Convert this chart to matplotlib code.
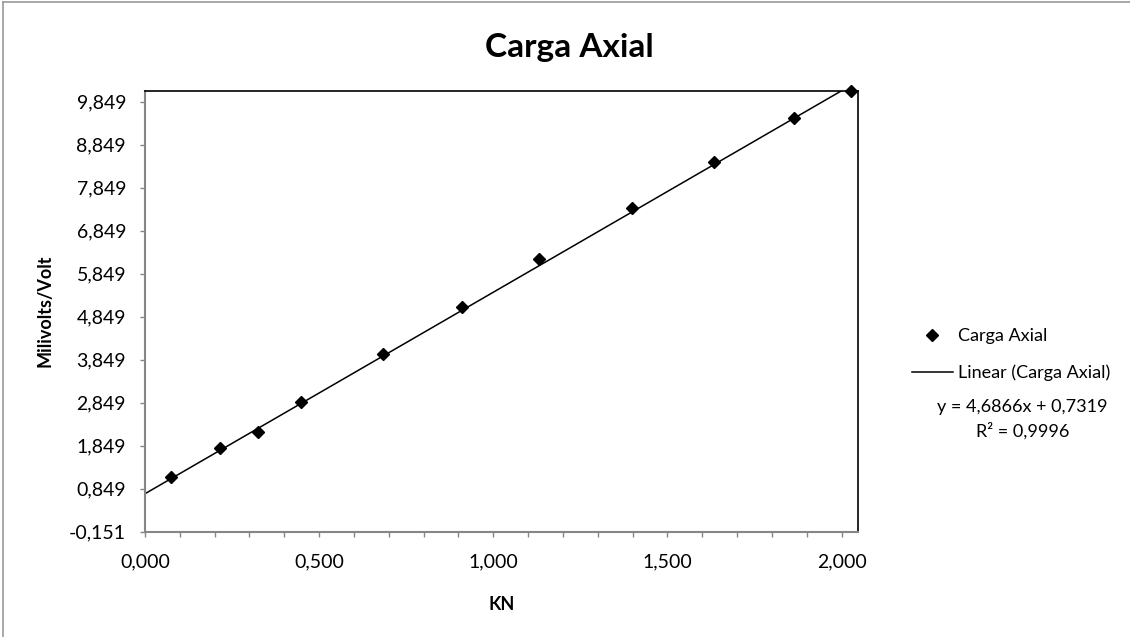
import numpy as np
import matplotlib
matplotlib.use("Agg")
import matplotlib.pyplot as plt
from matplotlib.lines import Line2D
from matplotlib.ticker import FixedLocator, MultipleLocator, FuncFormatter

plt.rcParams["font.family"] = ["Lato", "DejaVu Sans"]

# values
kn = [0.075, 0.215, 0.325, 0.448, 0.682, 0.911, 1.131, 1.399, 1.634, 1.863, 2.028]
milivolts = [1.128, 1.802, 2.161, 2.858, 3.982, 5.075, 6.191, 7.370, 8.454, 9.477, 10.098]
slope = 4.6866
intercept = 0.7319
r2 = 0.9996
y_ticks = [-0.151, 0.849, 1.849, 2.849, 3.849, 4.849, 5.849, 6.849, 7.849, 8.849, 9.849]
x_ticks = [0.0, 0.5, 1.0, 1.5, 2.0]
x_max = 2.047
y_max = 10.105


def comma(v, pos=None):
    return f"{v:.3f}".replace(".", ",")


fig = plt.figure(figsize=(11.3, 6.37), dpi=100)
ax = fig.add_axes([0.1283, 0.1653, 0.6310, 0.6923])

ax.plot(kn, milivolts, linestyle="none", marker="D", markersize=6.5,
        color="black", clip_on=False, zorder=3)
line_x = np.array([0.0, x_max])
ax.plot(line_x, slope * line_x + intercept, color="black", lw=1.1)

ax.set_xlim(0, x_max)
ax.set_ylim(y_ticks[0], y_max)
ax.xaxis.set_major_locator(FixedLocator(x_ticks))
ax.xaxis.set_minor_locator(MultipleLocator(0.1))
ax.yaxis.set_major_locator(FixedLocator(y_ticks))
ax.xaxis.set_major_formatter(FuncFormatter(comma))
ax.yaxis.set_major_formatter(FuncFormatter(comma))
ax.tick_params(axis="both", which="both", direction="out", length=3.6,
               width=1, color="#868686", labelsize=14)
ax.tick_params(axis="x", pad=12)
ax.tick_params(axis="y", pad=10)

for side in ("left", "bottom"):
    ax.spines[side].set_color("#868686")
    ax.spines[side].set_linewidth(1.5)
for side in ("top", "right"):
    ax.spines[side].set_color("black")
    ax.spines[side].set_linewidth(1.2)

ax.set_xlabel("KN", fontsize=13, fontweight="bold")
ax.set_ylabel("Milivolts/Volt", fontsize=13, fontweight="bold")
ax.xaxis.set_label_coords(0.5, -0.146)
ax.yaxis.set_label_coords(-0.128, 0.5)
fig.text(0.5035, 0.926, "Carga Axial", ha="center", va="center",
         fontsize=24, fontweight="bold")

# legend: marker entry and trendline entry laid out like the Excel legend
leg1 = fig.legend([Line2D([], [], linestyle="none", marker="D", markersize=6,
                          color="black")], ["Carga Axial"],
                  loc="center left", bbox_to_anchor=(0.8165, 0.4725),
                  frameon=False, fontsize=13, handlelength=1.0,
                  handletextpad=0.96, borderpad=0, borderaxespad=0)
leg2 = fig.legend([Line2D([], [], color="black", lw=1.1)],
                  ["Linear (Carga Axial)"],
                  loc="center left", bbox_to_anchor=(0.8071, 0.4144),
                  frameon=False, fontsize=13, handlelength=2.27,
                  handletextpad=0.28, borderpad=0, borderaxespad=0)

fig.text(0.905, 0.361,
         f"y = {slope:.4f}x + {intercept:.4f}".replace(".", ","),
         ha="center", va="center", fontsize=13)
fig.text(0.905, 0.323, f"R² = {r2:.4f}".replace(".", ","),
         ha="center", va="center", fontsize=13)

# outer chart frame (only left and top edges fall inside the picture)
fig.add_artist(Line2D([0.003, 0.003], [0, 0.997], color="#9a9a9a", lw=1.2,
                      transform=fig.transFigure))
fig.add_artist(Line2D([0.003, 1.0], [0.997, 0.997], color="#9a9a9a", lw=1.2,
                      transform=fig.transFigure))

fig.savefig("out.png", dpi=100, facecolor="white")
